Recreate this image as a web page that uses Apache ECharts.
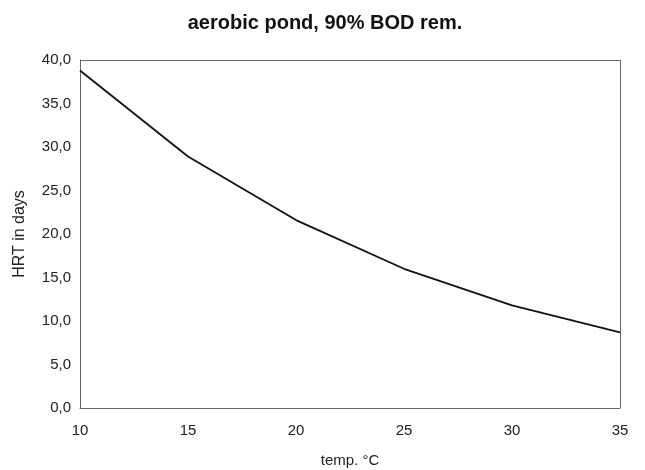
<!DOCTYPE html>
<html><head><meta charset="utf-8">
<script src="https://cdn.jsdelivr.net/npm/echarts@6/dist/echarts.min.js"></script>
<style>html,body{margin:0;padding:0;background:#fff}#c{width:645px;height:470px}</style>
</head><body><div id="c"></div>
<script>
const temps = [10, 15, 20, 25, 30, 35];
const hrtDays = [38.8, 28.9, 21.6, 16.0, 11.8, 8.7];
const titleText = 'aerobic pond, 90% BOD rem.';
const xName = 'temp. °C';
const yName = 'HRT in days';

const chart = echarts.init(document.getElementById('c'));
const font = 'Liberation Sans, Arial, sans-serif';
chart.setOption({
  animation: false,
  title: { text: titleText, left: 320, top: 8, textAlign: 'center',
    textStyle: { fontFamily: font, fontSize: 20, fontWeight: 'bold', color: '#111' } },
  grid: { left: 80, right: 25, top: 60, bottom: 62, containLabel: false, outerBoundsMode: 'none' },
  xAxis: { type: 'value', min: 10, max: 35, interval: 5,
    name: xName, nameLocation: 'middle', nameGap: 45,
    nameTextStyle: { fontFamily: font, fontSize: 15, color: '#222' },
    axisLine: { show: true, lineStyle: { color: '#666', width: 1 } },
    axisTick: { show: false }, splitLine: { show: false },
    axisLabel: { fontFamily: font, fontSize: 15, color: '#222', margin: 15 } },
  yAxis: { type: 'value', min: 0, max: 40, interval: 5,
    name: yName, nameLocation: 'middle', nameGap: 52, nameRotate: 90,
    nameTextStyle: { fontFamily: font, fontSize: 16, color: '#222' },
    axisLine: { show: true, lineStyle: { color: '#666', width: 1 } },
    axisTick: { show: false }, splitLine: { show: false },
    axisLabel: { fontFamily: font, fontSize: 15, color: '#222', margin: 9,
      formatter: v => v.toFixed(1).replace('.', ',') } },
  series: [
    { type: 'line', data: temps.map((t, i) => [t, hrtDays[i]]), symbol: 'none',
      lineStyle: { color: '#111', width: 1.8 } },
    { type: 'line', data: [], markLine: { silent: true, symbol: 'none', label: { show: false },
      lineStyle: { color: '#666', width: 1, type: 'solid' },
      data: [[{ coord: [10, 40] }, { coord: [35, 40] }], [{ coord: [35, 0] }, { coord: [35, 40] }]] } }
  ]
});
</script></body></html>
